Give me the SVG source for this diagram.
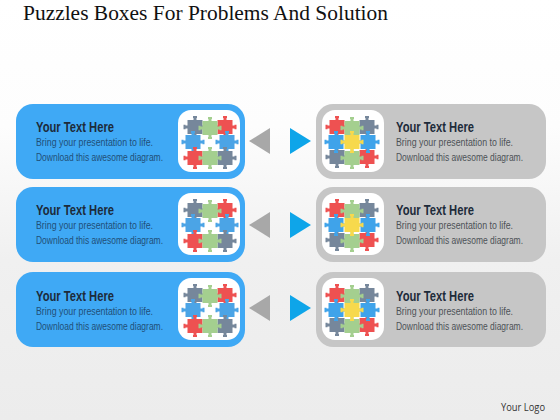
<svg xmlns="http://www.w3.org/2000/svg" width="560" height="420" viewBox="0 0 560 420">
<style>
.h{font-family:"Liberation Sans",Arial,sans-serif;font-size:15px;font-weight:700;fill:#1d2b3a}
.b{font-family:"Liberation Sans",Arial,sans-serif;font-size:11px}
.bl{fill:#1f4f78}.gr{fill:#4d5257}
.blue{fill:#3fa9f5}.grey{fill:#c6c6c6}.white{fill:#fff}
</style>
<defs>
<linearGradient id="bg" x1="0" y1="0" x2="0" y2="1"><stop offset="0" stop-color="#fff"/><stop offset=".3" stop-color="#fdfdfd"/><stop offset=".62" stop-color="#f0f0f0"/><stop offset="1" stop-color="#ececec"/></linearGradient>
<path id="p" d="M-7.500-7H-1.500V-9H-2V-11H2V-9H1.500V-7H7.500V-1.500H9.500V-2.200H11.500V2.200H9.500V1.500H7.500V7H1.500V9H2V11H-2V9H-1.500V7H-7.500V1.500H-9.500V2.200H-11.500V-2.200H-9.500V-1.500H-7.500Z"/>
<g id="pl"><rect x="178" y="110" width="62" height="62" rx="13" class="white"/>
<use href="#p" x="195" y="127" fill="#76879b"/><use href="#p" x="225" y="127" fill="#ee5151"/><use href="#p" x="210" y="128" fill="#a4cf8f"/>
<use href="#p" x="193" y="142" fill="#4ba4e6"/><use href="#p" x="227" y="142" fill="#4ba4e6"/>
<use href="#p" x="195" y="158" fill="#ee5151"/><use href="#p" x="225" y="158" fill="#76879b"/><use href="#p" x="210" y="158" fill="#a4cf8f"/></g>
<g id="pr"><rect x="322" y="110" width="62" height="62" rx="13" class="white"/>
<use href="#p" x="337" y="127" fill="#ee5151"/><use href="#p" x="367" y="127" fill="#76879b"/><use href="#p" x="352" y="128" fill="#a4cf8f"/>
<use href="#p" x="337" y="157" fill="#76879b"/><use href="#p" x="367" y="157" fill="#ee5151"/><use href="#p" x="352" y="158" fill="#a4cf8f"/>
<use href="#p" x="336" y="142" fill="#3fa3ea"/><use href="#p" x="368" y="142" fill="#3fa3ea"/><use href="#p" x="352" y="142" fill="#f7d94c"/></g>
</defs>
<rect width="560" height="420" fill="url(#bg)"/>
<text x="23" y="20" font-family="'Liberation Serif',serif" font-size="20" fill="#111" textLength="365" lengthAdjust="spacingAndGlyphs">Puzzles Boxes For Problems And Solution</text>

<g id="left-1"><rect x="16" y="104" width="229" height="75" rx="17" class="blue"/><use href="#pl"/>
<text class="h" x="36" y="132" textLength="78" lengthAdjust="spacingAndGlyphs">Your Text Here</text>
<text class="b bl" x="36" y="146" textLength="117" lengthAdjust="spacingAndGlyphs">Bring your presentation to life.</text>
<text class="b bl" x="36" y="161" textLength="127" lengthAdjust="spacingAndGlyphs">Download this awesome diagram.</text></g>
<g id="left-2"><rect x="16" y="187" width="229" height="75" rx="17" class="blue"/><use href="#pl" y="83"/>
<text class="h" x="36" y="215" textLength="78" lengthAdjust="spacingAndGlyphs">Your Text Here</text>
<text class="b bl" x="36" y="229" textLength="117" lengthAdjust="spacingAndGlyphs">Bring your presentation to life.</text>
<text class="b bl" x="36" y="244" textLength="127" lengthAdjust="spacingAndGlyphs">Download this awesome diagram.</text></g>
<g id="left-3"><rect x="16" y="272" width="229" height="75" rx="17" class="blue"/><use href="#pl" y="168"/>
<text class="h" x="36" y="301" textLength="78" lengthAdjust="spacingAndGlyphs">Your Text Here</text>
<text class="b bl" x="36" y="315" textLength="117" lengthAdjust="spacingAndGlyphs">Bring your presentation to life.</text>
<text class="b bl" x="36" y="330" textLength="127" lengthAdjust="spacingAndGlyphs">Download this awesome diagram.</text></g>

<g id="right-1"><rect x="316" y="104" width="230" height="75" rx="17" class="grey"/><use href="#pr"/>
<text class="h" x="396" y="132" textLength="78" lengthAdjust="spacingAndGlyphs">Your Text Here</text>
<text class="b gr" x="396" y="146" textLength="117" lengthAdjust="spacingAndGlyphs">Bring your presentation to life.</text>
<text class="b gr" x="396" y="161" textLength="127" lengthAdjust="spacingAndGlyphs">Download this awesome diagram.</text></g>
<g id="right-2"><rect x="316" y="187" width="230" height="75" rx="17" class="grey"/><use href="#pr" y="83"/>
<text class="h" x="396" y="215" textLength="78" lengthAdjust="spacingAndGlyphs">Your Text Here</text>
<text class="b gr" x="396" y="229" textLength="117" lengthAdjust="spacingAndGlyphs">Bring your presentation to life.</text>
<text class="b gr" x="396" y="244" textLength="127" lengthAdjust="spacingAndGlyphs">Download this awesome diagram.</text></g>
<g id="right-3"><rect x="316" y="272" width="230" height="75" rx="17" class="grey"/><use href="#pr" y="168"/>
<text class="h" x="396" y="301" textLength="78" lengthAdjust="spacingAndGlyphs">Your Text Here</text>
<text class="b gr" x="396" y="315" textLength="117" lengthAdjust="spacingAndGlyphs">Bring your presentation to life.</text>
<text class="b gr" x="396" y="330" textLength="127" lengthAdjust="spacingAndGlyphs">Download this awesome diagram.</text></g>

<g id="connectors">
<path d="M249 141l21-13v26Z" fill="#a8a8a8"/><path d="M311 141l-21-13v26Z" fill="#0ea5e9"/>
<path d="M249 225l21-13v26Z" fill="#a8a8a8"/><path d="M311 225l-21-13v26Z" fill="#0ea5e9"/>
<path d="M249 308l21-13v26Z" fill="#a8a8a8"/><path d="M311 308l-21-13v26Z" fill="#0ea5e9"/>
</g>
<text x="501" y="411" font-family="'Open Sans','Liberation Sans',sans-serif" font-size="10" fill="#333" textLength="44" lengthAdjust="spacingAndGlyphs">Your Logo</text>
</svg>
